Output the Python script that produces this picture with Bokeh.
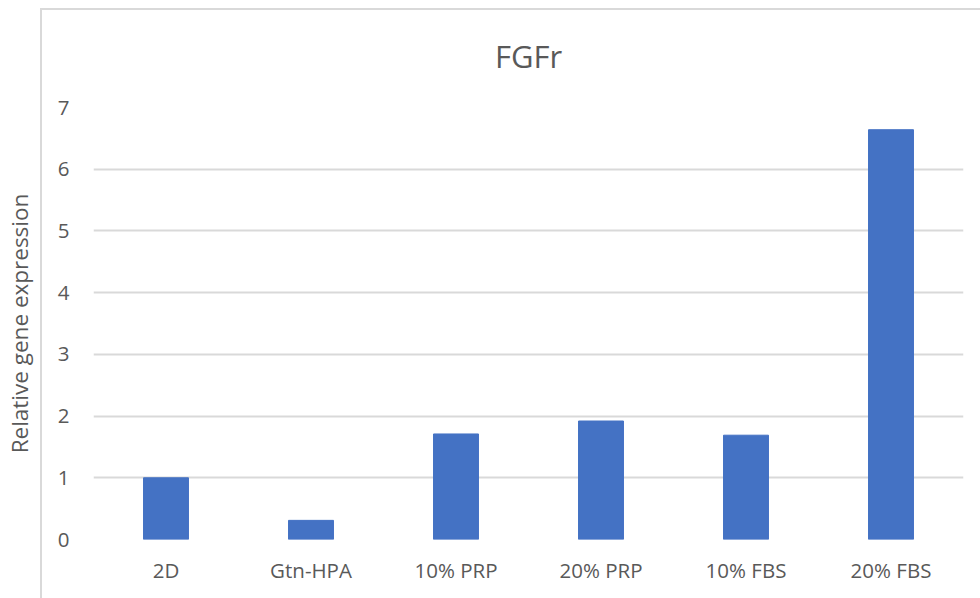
from bokeh.plotting import figure
from bokeh.models import ColumnDataSource, Range1d, FixedTicker, InlineStyleSheet
from bokeh.embed import file_html
from bokeh.resources import INLINE

categories = ["2D", "Gtn-HPA", "10% PRP", "20% PRP", "10% FBS", "20% FBS"]
values = [1.0, 0.31, 1.71, 1.92, 1.69, 6.64]
y_ticks = [0, 1, 2, 3, 4, 5, 6, 7]

FONT = "Open Sans"
TXT = "#595959"
GRID = "#d9d9d9"

src = ColumnDataSource(data=dict(cat=categories, val=values))

css = InlineStyleSheet(css="""
:host { position: relative; }
:host::after {
  content: "";
  position: absolute;
  left: 40px; top: 8px; right: -8px; bottom: -8px;
  border-left: 2px solid #d9d9d9;
  border-top: 2px solid #d9d9d9;
  pointer-events: none;
}
""")

p = figure(
    x_range=categories,
    y_range=Range1d(0, 7),
    width=980, height=598,
    output_backend="svg",
    toolbar_location=None,
    min_border_left=92, min_border_right=17,
    min_border_top=107, min_border_bottom=59,
    title="FGFr",
    stylesheets=[css],
)
p.vbar(x="cat", top="val", width=0.31, source=src,
       fill_color="#4472C4", line_color="#4472C4", line_width=1)

p.title.align = "center"
p.title.text_font = FONT
p.title.text_font_size = "31px"
p.title.text_font_style = "normal"
p.title.text_color = TXT
p.title.standoff = 62

p.outline_line_color = None
p.background_fill_color = "white"
p.border_fill_color = "white"

p.xgrid.grid_line_color = None
p.ygrid.grid_line_color = GRID
p.ygrid.grid_line_width = 2
p.yaxis.ticker = FixedTicker(ticks=y_ticks)

for ax in (p.xaxis[0], p.yaxis[0]):
    ax.axis_line_color = None
    ax.major_tick_line_color = None
    ax.minor_tick_line_color = None
    ax.major_tick_out = 0
    ax.major_tick_in = 0
    ax.minor_tick_out = 0
    ax.minor_tick_in = 0
    ax.major_label_text_font = FONT
    ax.major_label_text_font_size = "20.5px"
    ax.major_label_text_color = TXT

p.yaxis.major_label_standoff = 24
p.xaxis.major_label_standoff = 16
p.yaxis.axis_label = "Relative gene expression"
p.yaxis.axis_label_text_font = FONT
p.yaxis.axis_label_text_font_size = "22.5px"
p.yaxis.axis_label_text_font_style = "normal"
p.yaxis.axis_label_text_color = TXT
p.yaxis.axis_label_standoff = 20

open("out.html", "w").write(file_html(p, INLINE))
